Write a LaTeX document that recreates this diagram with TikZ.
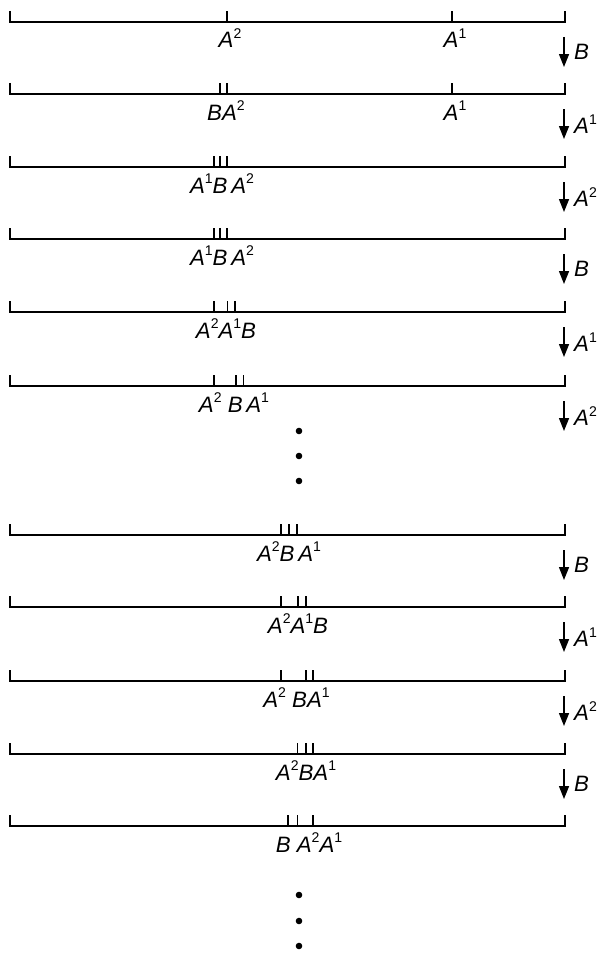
\documentclass[tikz,border=0pt]{standalone}
\usepackage{fontspec}
\setmainfont{Liberation Sans}
\usetikzlibrary{arrows.meta}
\newcommand{\sups}[1]{\raisebox{0.42em}{\fontsize{12}{12}\selectfont\upshape #1}}
\newcommand{\Aa}{\textit{A}\sups{1}}
\newcommand{\Ab}{\textit{A}\sups{2}}
\newcommand{\Bb}{\textit{B}}

\begin{document}
\begin{tikzpicture}[x=0.03cm,y=-0.03cm,
  axis/.style={line width=1.6pt,line join=miter},
  tick/.style={line width=1.1pt},
  lbl/.style={anchor=base,inner sep=0pt,font=\fontsize{19}{22}\selectfont},
  move/.style={line width=1.1pt,-{Triangle[length=11pt,width=8.5pt]}},
  movelbl/.style={anchor=west,inner sep=0pt,font=\fontsize{19}{22}\selectfont},
  dot/.style={circle,fill,inner sep=0pt,minimum size=5.6pt}]
  \useasboundingbox (0,0) rectangle (600,953);
  % the rows
  \foreach \n/\y in {1/22,2/94,3/167,4/239,5/312,6/386,7/535,8/607,9/681,10/754,11/826}{
    \coordinate (r\n) at (10,\y);
    \coordinate (e\n) at (565,\y);
    \draw[axis] (r\n) ++(0,-11) |- (e\n) -- ++(0,-11);
  }
  % ticks
  \foreach \x in {227,452} \draw[tick] (\x,22) -- ++(0,-11);
  \foreach \x in {220,227,452} \draw[tick] (\x,94) -- ++(0,-11);
  \foreach \x in {214,220,227} \draw[tick] (\x,167) -- ++(0,-11);
  \foreach \x in {214,220,227} \draw[tick] (\x,239) -- ++(0,-11);
  \foreach \x in {214,227.5,235} \draw[tick] (\x,312) -- ++(0,-11);
  \foreach \x in {214,236,243.5} \draw[tick] (\x,386) -- ++(0,-11);
  \foreach \x in {281,289,297} \draw[tick] (\x,535) -- ++(0,-11);
  \foreach \x in {281,298,306} \draw[tick] (\x,607) -- ++(0,-11);
  \foreach \x in {281,306,313} \draw[tick] (\x,681) -- ++(0,-11);
  \foreach \x in {297.5,306,313} \draw[tick] (\x,754) -- ++(0,-11);
  \foreach \x in {288,297.5,313} \draw[tick] (\x,826) -- ++(0,-11);
  % labels under the ticks
  \node[lbl] (l1a) at (230,48) {\Ab};
  \node[lbl] (l1b) at (455,48) {\Aa};
  \node[lbl] (l2a) at (226,120) {\Bb\Ab};
  \node[lbl] (l2b) at (455,120) {\Aa};
  \node[lbl] (l3) at (222,193) {\Aa\Bb\,\Ab};
  \node[lbl] (l4) at (222,265) {\Aa\Bb\,\Ab};
  \node[lbl] (l5) at (226,338) {\Ab\Aa\Bb};
  \node[lbl] (l6) at (234,412) {\Ab\ \Bb\,\Aa};
  \node[lbl] (l7) at (289,561) {\Ab\Bb\,\Aa};
  \node[lbl] (l8) at (298,633) {\Ab\Aa\Bb};
  \node[lbl] (l9) at (296.5,707) {\Ab\ \Bb\Aa};
  \node[lbl] (l10) at (306,780) {\Ab\Bb\Aa};
  \node[lbl] (l11) at (309,852) {\Bb\ \Ab\Aa};
  % moves between the rows
  \foreach \n/\y/\g in {1/22/\Bb,2/94/\Aa,3/167/\Ab,4/239/\Bb,5/312/\Aa,6/386/\Ab,
                        7/535/\Bb,8/607/\Aa,9/681/\Ab,10/754/\Bb}{
    \coordinate (s\n) at (564,\y+15);
    \coordinate (t\n) at (564,\y+45);
    \draw[move] (s\n) -- (t\n);
    \node[movelbl] (m\n) at (574,\y+30) {\g};
  }
  % dots
  \foreach \n/\y in {1/431,2/456,3/481,4/895,5/921,6/946}
    \node[dot] (d\n) at (299,\y) {};
\end{tikzpicture}
\end{document}
